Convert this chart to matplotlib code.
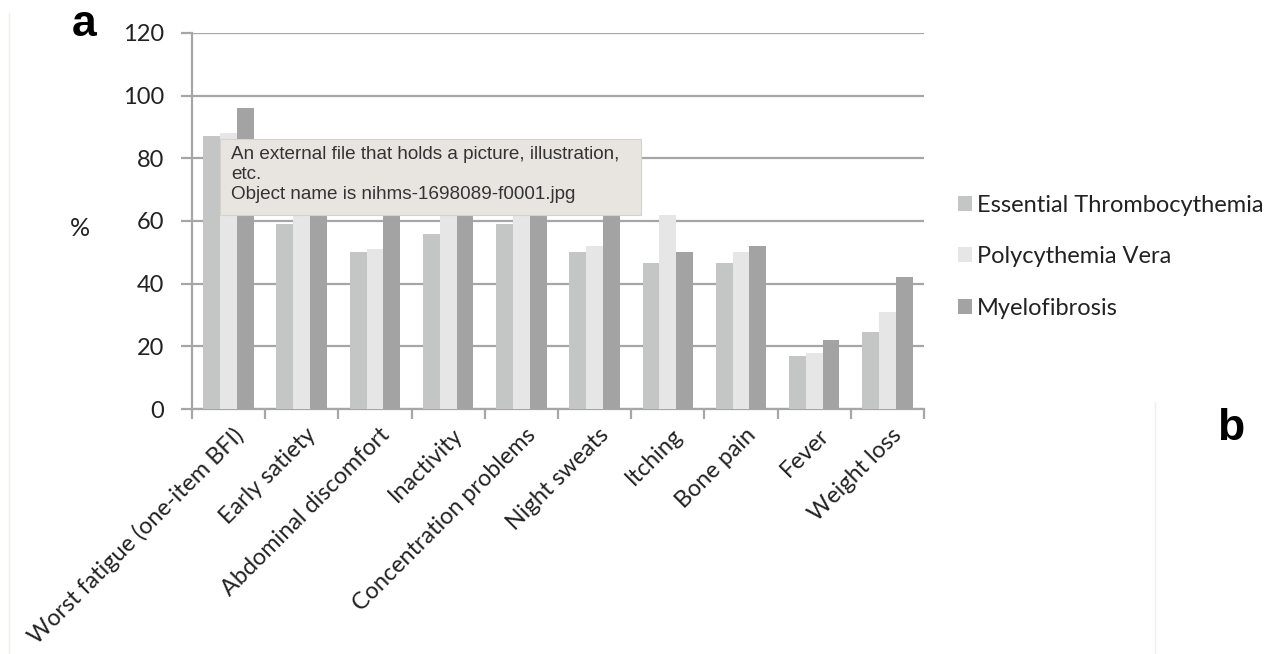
import matplotlib.pyplot as plt
from matplotlib.patches import Rectangle
import numpy as np

# Dane
symptoms = ['Worst fatigue (one-item BFI)', 'Early satiety', 'Abdominal discomfort', 'Inactivity',
            'Concentration problems', 'Night sweats', 'Itching', 'Bone pain', 'Fever', 'Weight loss']
et = [87, 59, 50, 56, 59, 50, 46.5, 46.5, 17, 24.5]
pv = [88, 66, 51, 66, 69, 52, 62, 50, 18, 31]
mf = [96, 70, 65, 72, 75, 63, 50, 52, 22, 42]
series_names = ['Essential Thrombocythemia', 'Polycythemia Vera', 'Myelofibrosis']
colors = ['#c4c6c5', '#e6e6e6', '#a3a3a3']
yticks = [0, 20, 40, 60, 80, 100, 120]

plt.rcParams['font.family'] = ['Lato', 'DejaVu Sans']

fig = plt.figure(figsize=(12.71, 6.54), dpi=100)
ax = fig.add_axes([0.151, 0.3746, 0.576, 0.575])

x = np.arange(len(symptoms))
w = 0.23
for i, (vals, name, c) in enumerate(zip([et, pv, mf], series_names, colors)):
    ax.bar(x + (i - 1) * w, vals, width=w, color=c, label=name, zorder=3)

# Osie
ax.set_xlim(-0.5, len(symptoms) - 0.5)
ax.set_ylim(0, 120)
ax.set_yticks(yticks)
ax.set_yticklabels([str(t) for t in yticks], fontsize=17, color='#222222')
ax.yaxis.grid(True, color='#a6a6a6', linewidth=1.6, zorder=0)
ax.tick_params(axis='y', length=8, width=1.6, color='#a6a6a6', pad=12)

ax.set_xticks(np.arange(len(symptoms) + 1) - 0.5, minor=False)
ax.set_xticklabels([])
ax.tick_params(axis='x', length=7, width=1.6, color='#a6a6a6', which='major')
ax.set_xticks(x + 0.05, minor=True)
ax.set_xticklabels(symptoms, minor=True, rotation=45, ha='right', va='top',
                   rotation_mode='anchor', fontsize=16.8, color='#222222')
ax.tick_params(axis='x', which='minor', length=0, pad=11)

for s in ['top', 'right']:
    ax.spines[s].set_visible(False)
for s in ['left', 'bottom']:
    ax.spines[s].set_color('#a6a6a6')
    ax.spines[s].set_linewidth(1.6)

fig.text(0.063, 0.651, '%', fontsize=18, color='#222222', ha='center', va='center')

# Legenda
leg = ax.legend(loc='center left', bbox_to_anchor=(1.017, 0.405), frameon=False,
                fontsize=17, handlelength=0.6, handleheight=0.6, labelspacing=1.3,
                handletextpad=0.2)
for t in leg.get_texts():
    t.set_color('#222222')

# Litery paneli
fig.text(0.066, 0.963, 'a', fontsize=32, fontweight='bold', family='Liberation Sans', ha='center', va='center')
fig.text(0.968, 0.345, 'b', fontsize=32, fontweight='bold', family='Liberation Sans', ha='center', va='center')
fig.add_artist(plt.Line2D([0.909, 0.909], [0.0, 0.385], color='#f3efe6', linewidth=1))
fig.add_artist(plt.Line2D([0.007, 0.007], [0.0, 0.98], color='#f6ece0', linewidth=1))

# Dymek
fig.add_artist(Rectangle((0.173, 0.671), 0.331, 0.117, transform=fig.transFigure,
                         facecolor='#e8e5e1', edgecolor='#d6d3cf', linewidth=0.8, zorder=10))
fig.text(0.182, 0.777, 'An external file that holds a picture, illustration,\netc.\nObject name is nihms-1698089-f0001.jpg',
         fontsize=13.6, family='Liberation Sans', color='#333333', va='top', ha='left',
         linespacing=1.25, zorder=11)

fig.savefig('out.png', dpi=100)
